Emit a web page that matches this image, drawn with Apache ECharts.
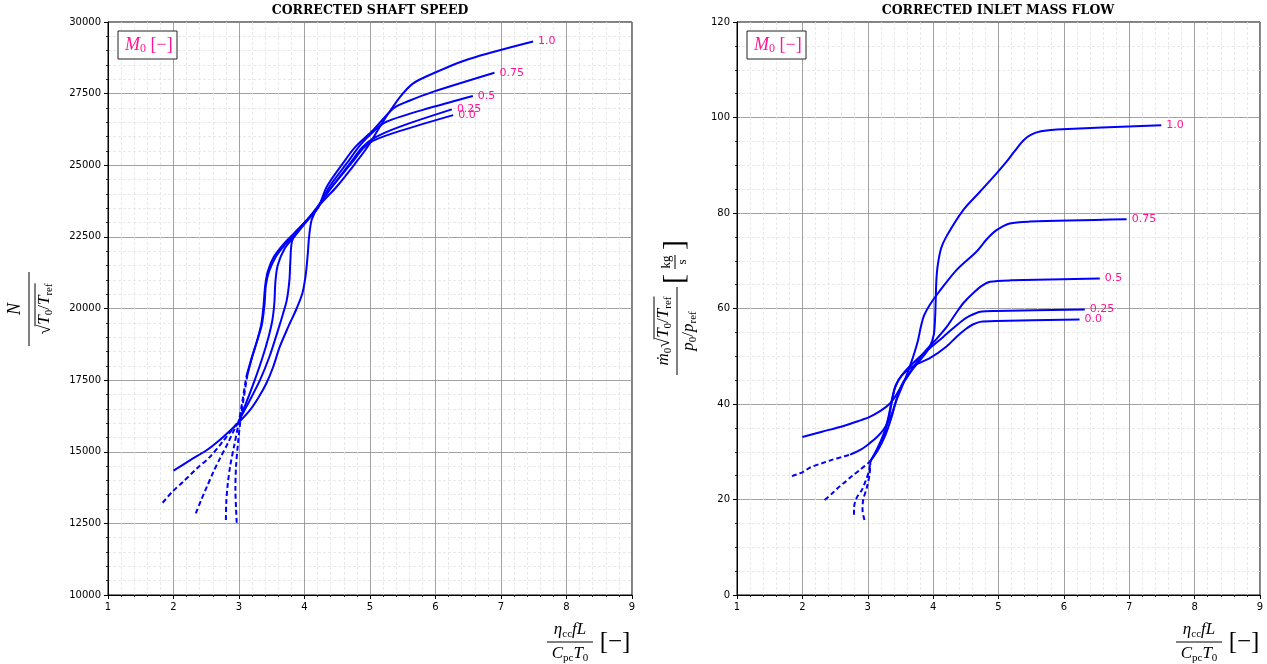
<!DOCTYPE html>
<html><head><meta charset="utf-8">
<script src="https://cdn.jsdelivr.net/npm/echarts@6/dist/echarts.min.js"></script>
<style>html,body{margin:0;padding:0;background:#fff}#c{width:1267px;height:664px}</style>
</head><body><div id="c"></div>
<script>
// ---------- data ----------
const machLabels = ['0.0', '0.25', '0.5', '0.75', '1.0'];
const xTicks = [1, 2, 3, 4, 5, 6, 7, 8, 9];
const speedTicks = [10000, 12500, 15000, 17500, 20000, 22500, 25000, 27500, 30000];
const flowTicks = [0, 20, 40, 60, 80, 100, 120];

// Corrected shaft speed (left)
const speedDash00 = [[2.965,12520],[2.955,13000],[2.945,13700],[2.955,14500],[2.985,15300],[3.02,16050],[3.07,16850],[3.13,17700]];
const speedSolid00 = [[3.13,17700],[3.2,18300],[3.28,18900],[3.34,19450],[3.375,20100],[3.40,20800],[3.44,21300],[3.53,21800],[3.68,22250],[3.85,22650],[4.02,23050],[4.2,23550],[4.42,24250],[4.72,25080],[4.9,25600],[5.05,25860],[5.46,26200],[6.27,26750]];
const speedDash025 = [[2.80,12620],[2.805,13200],[2.825,13800],[2.865,14500],[2.93,15250],[2.99,15950],[3.05,16750],[3.11,17600]];
const speedSolid025 = [[3.11,17600],[3.19,18250],[3.28,18900],[3.35,19450],[3.39,20150],[3.41,20800],[3.46,21300],[3.56,21800],[3.71,22250],[3.87,22620],[4.03,23050],[4.2,23550],[4.42,24250],[4.70,25080],[4.88,25620],[5.05,25940],[5.46,26350],[6.25,26950]];
const speedDash05 = [[2.34,12850],[2.42,13300],[2.51,13780],[2.61,14300],[2.71,14770],[2.83,15300],[2.94,15830],[2.99,16020]];
const speedSolid05 = [[2.99,16020],[3.1,16650],[3.24,17500],[3.36,18300],[3.45,19000],[3.51,19600],[3.54,20200],[3.555,20900],[3.59,21500],[3.7,22100],[3.85,22520],[4.0,22950],[4.2,23500],[4.38,24250],[4.65,25080],[4.85,25700],[5.05,26170],[5.25,26520],[5.97,27040],[6.57,27420]];
const speedDash075 = [[1.835,13220],[1.98,13600],[2.15,13960],[2.35,14400],[2.56,14830],[2.75,15350],[2.92,15850],[2.99,16050]];
const speedSolid075 = [[2.99,16050],[3.12,16600],[3.32,17500],[3.47,18350],[3.59,19200],[3.67,19800],[3.73,20300],[3.77,21000],[3.785,21700],[3.81,22350],[3.92,22800],[4.2,23500],[4.34,24250],[4.59,25080],[4.78,25650],[5.05,26230],[5.36,26990],[5.6,27250],[5.97,27570],[6.9,28230]];
const speedSolid10 = [[2.0,14340],[2.25,14700],[2.51,15060],[2.75,15500],[2.99,16010],[3.17,16460],[3.3,16900],[3.42,17400],[3.52,17950],[3.62,18650],[3.75,19350],[3.88,20000],[3.97,20550],[4.02,21200],[4.05,21900],[4.07,22500],[4.11,23100],[4.21,23550],[4.49,24250],[4.78,25080],[4.95,25600],[5.1,26150],[5.25,26700],[5.46,27390],[5.66,27860],[5.97,28210],[6.5,28700],[7.49,29320]];

// Corrected inlet mass flow (right)
const flowDash00 = [[2.95,15.7],[2.92,17.8],[2.93,19.9],[2.99,22.7],[3.03,25.5],[3.04,28.0]];
const flowSolid00 = [[3.04,28.0],[3.15,30.5],[3.25,33.5],[3.32,37],[3.37,40.5],[3.42,43.5],[3.52,46],[3.7,48],[3.95,49.6],[4.2,52],[4.36,54.1],[4.5,55.7],[4.6,56.6],[4.72,57.2],[4.97,57.4],[6.24,57.7]];
const flowDash025 = [[2.79,16.8],[2.79,18.0],[2.80,19.2],[2.84,20.6],[2.91,22.0],[2.97,24.0],[3.02,26.0],[3.04,28.0]];
const flowSolid025 = [[3.04,28.0],[3.15,30.8],[3.25,34],[3.32,37.5],[3.37,41],[3.43,44],[3.55,46.5],[3.75,49.3],[3.95,51.7],[4.15,54],[4.31,55.9],[4.45,57.5],[4.54,58.3],[4.72,59.3],[4.97,59.5],[6.32,59.8]];
const flowDash05 = [[2.34,19.9],[2.45,21.2],[2.55,22.5],[2.63,23.4],[2.75,24.8],[2.88,26.2],[3.03,27.9]];
const flowSolid05 = [[3.03,27.9],[3.15,30.2],[3.27,33.5],[3.37,37.5],[3.44,41],[3.52,44],[3.65,46.8],[3.85,50.6],[4.05,53.6],[4.21,56.2],[4.35,59],[4.46,61.1],[4.61,63.2],[4.75,64.8],[4.87,65.6],[5.2,65.9],[6.55,66.3]];
const flowDash075 = [[1.84,24.9],[2.0,25.7],[2.12,26.7],[2.3,27.6],[2.45,28.3],[2.63,29.0],[2.73,29.4]];
const flowSolid075 = [[2.73,29.4],[2.9,30.5],[3.03,31.8],[3.15,33.2],[3.24,34.6],[3.32,36.5],[3.37,38.0],[3.43,40.5],[3.49,42.5],[3.58,45.5],[3.66,48.5],[3.72,51],[3.77,53.4],[3.81,56],[3.86,58.5],[3.95,60.8],[4.08,63.3],[4.36,68.1],[4.67,72.0],[4.82,74.5],[4.97,76.4],[5.17,77.8],[5.48,78.2],[6.96,78.7]];
const flowSolid10 = [[2.0,33.1],[2.3,34.2],[2.63,35.4],[2.85,36.4],[3.03,37.3],[3.2,38.6],[3.34,40.1],[3.44,42],[3.55,44.5],[3.7,47.5],[3.85,50],[3.95,52],[4.01,54.5],[4.03,58],[4.04,62],[4.05,66],[4.07,69],[4.12,72.5],[4.2,75],[4.46,80.6],[4.72,84.5],[4.97,88.3],[5.12,90.7],[5.25,93],[5.38,95.2],[5.5,96.4],[5.65,97.1],[5.89,97.5],[7.49,98.4]];

// ---------- helpers ----------
const PINK = '#ff1493', BLUE = '#0000ff';
const SERIF = '"Liberation Serif"';
const mctx = document.createElement('canvas').getContext('2d');
function tw(t, f) { mctx.font = f; return mctx.measureText(t).width; }
function it(s) { return 'italic ' + s + 'px ' + SERIF; }
function up(s) { return s + 'px ' + SERIF; }
function row(pieces, y, color, opts) {
  opts = opts || {};
  let x = 0; const items = [];
  pieces.forEach(p => { const w = tw(p[0], p[1]); items.push({t: p[0], f: p[1], x: x, dy: p[2] || 0, w: w}); x += w; });
  const total = x; const off = opts.left != null ? opts.left : -total / 2;
  const els = items.map(o => ({
    type: 'text', x: o.x + off, y: y + o.dy, z: 100,
    style: {text: o.t, font: o.f, fill: color || '#000', align: 'left', verticalAlign: 'middle', textAlign: 'left', textVerticalAlign: 'middle'}
  }));
  if (opts.sqrtIdx != null) {
    const s = items[opts.sqrtIdx];
    const x1 = s.x + off + s.w * 0.85;
    els.push({type: 'line', z: 100, shape: {x1: x1, y1: y + opts.barDy, x2: total + off, y2: y + opts.barDy}, style: {stroke: color || '#000', lineWidth: 1}});
  }
  return {els: els, width: total};
}
function hline(x1, x2, y) { return {type: 'line', z: 100, shape: {x1: x1, y1: y, x2: x2, y2: y}, style: {stroke: '#000', lineWidth: 1}}; }
function ctext(x, y, t, f) { return {type: 'text', x: x, y: y, z: 100, style: {text: t, font: f, fill: '#000', align: 'center', verticalAlign: 'middle', textAlign: 'center', textVerticalAlign: 'middle'}}; }

function xLabelGroup(cx) {
  const num = row([['η', it(17)], ['cc', up(11), 4], ['f', it(17)], ['L', it(17)]], -12);
  const den = row([['C', it(17)], ['pc', up(11), 4], ['T', it(17)], ['0', up(11), 4]], 12);
  return {type: 'group', x: cx, y: 642, z: 100, children: [].concat(num.els, den.els, [hline(-23, 23, 0), ctext(45, 0, '[−]', up(25))])};
}
function legendGroup(x) {
  const r = row([['M', it(18)], ['0', up(12), 4], [' [−]', up(18)]], 14, PINK, {left: 7});
  return {type: 'group', x: x, y: 31, z: 100, children: [{type: 'rect', z: 99, shape: {x: 0, y: 0, width: 59, height: 28}, style: {fill: '#fff', stroke: '#222', lineWidth: 1}}].concat(r.els)};
}
function title(cx, t) { return {type: 'text', x: cx, y: 11, z: 100, style: {text: t, font: 'bold 12.5px "DejaVu Serif"', fill: '#000', align: 'center', verticalAlign: 'middle', textAlign: 'center', textVerticalAlign: 'middle'}}; }
// left y label: N / sqrt(T0/Tref)
const yl1num = row([['N', it(18)]], -14);
const yl1den = row([['√', up(18)], ['T', it(17)], ['0', up(11), 4], ['/', up(17)], ['T', it(17)], ['ref', up(11), 4]], 16, '#000', {sqrtIdx: 0, barDy: -10});
const yLabel1 = {type: 'group', x: 29, y: 309, rotation: Math.PI / 2, z: 100, children: [].concat(yl1num.els, yl1den.els, [hline(-37, 37, 0)])};
// right y label
const yl2num = row([['ṁ', it(17)], ['0', up(11), 4], ['√', up(18)], ['T', it(17)], ['0', up(11), 4], ['/', up(17)], ['T', it(17)], ['ref', up(11), 4]], -13, '#000', {sqrtIdx: 2, barDy: -10});
const yl2den = row([['p', it(17)], ['0', up(11), 4], ['/', up(17)], ['p', it(17)], ['ref', up(11), 4]], 12);
const kg = [ctext(52, -2, '[', up(30)), ctext(86, -2, ']', up(30)), ctext(69, -10, 'kg', up(13)), ctext(69, 6, 's', up(13)), hline(62, 76, -2)];
const yLabel2 = {type: 'group', x: 677, y: 331, rotation: Math.PI / 2, z: 100, children: [].concat(yl2num.els, yl2den.els, [hline(-44, 44, 0)], kg)};

// ---------- chart ----------
const chart = echarts.init(document.getElementById('c'), null, {renderer: 'canvas'});
function axisCommon(extra, split) {
  return Object.assign({
    type: 'value',
    axisLine: {show: true, onZero: false, lineStyle: {color: '#000', width: 1}},
    axisTick: {show: true, inside: false, length: 4, lineStyle: {color: '#000', width: 1}},
    minorTick: {show: true, splitNumber: split, length: 2, lineStyle: {color: '#000', width: 0.8}},
    axisLabel: {color: '#000', fontSize: 10, fontFamily: '"DejaVu Sans"', margin: 7, formatter: v => String(v)},
    splitLine: {show: true, lineStyle: {color: '#8a8a8a', width: 0.8}},
    minorSplitLine: {show: true, lineStyle: {color: '#e3e3e3', width: 0.8, type: [3, 2]}}
  }, extra);
}
const xAxes = [0, 1].map(g => axisCommon({gridIndex: g, min: xTicks[0], max: xTicks[xTicks.length - 1], interval: 1}, 5));
const yAxes = [
  axisCommon({gridIndex: 0, min: speedTicks[0], max: speedTicks[speedTicks.length - 1], interval: 2500}, 5),
  axisCommon({gridIndex: 1, min: flowTicks[0], max: flowTicks[flowTicks.length - 1], interval: 20}, 4)
];
function ser(g, data, dashed, label) {
  const s = {
    type: 'line', xAxisIndex: g, yAxisIndex: g, data: data, showSymbol: false, symbol: 'none',
    smooth: 0.3, z: 5,
    lineStyle: {color: BLUE, width: 2, type: dashed ? [5, 3] : 'solid'},
    itemStyle: {color: BLUE}
  };
  if (label) s.endLabel = {show: true, formatter: label, color: PINK, fontSize: 11, fontFamily: '"DejaVu Sans"', distance: 5};
  return s;
}
const series = [
  ser(0, speedDash00, true), ser(0, speedSolid00, false, machLabels[0]),
  ser(0, speedDash025, true), ser(0, speedSolid025, false, machLabels[1]),
  ser(0, speedDash05, true), ser(0, speedSolid05, false, machLabels[2]),
  ser(0, speedDash075, true), ser(0, speedSolid075, false, machLabels[3]),
  ser(0, speedSolid10, false, machLabels[4]),
  ser(1, flowDash00, true), ser(1, flowSolid00, false, machLabels[0]),
  ser(1, flowDash025, true), ser(1, flowSolid025, false, machLabels[1]),
  ser(1, flowDash05, true), ser(1, flowSolid05, false, machLabels[2]),
  ser(1, flowDash075, true), ser(1, flowSolid075, false, machLabels[3]),
  ser(1, flowSolid10, false, machLabels[4])
];
chart.setOption({
  animation: false,
  backgroundColor: '#fff',
  grid: [
    {left: 108, top: 22, width: 524, height: 573, show: true, borderColor: '#000', borderWidth: 1, backgroundColor: 'transparent'},
    {left: 737, top: 22, width: 523, height: 573, show: true, borderColor: '#000', borderWidth: 1, backgroundColor: 'transparent'}
  ],
  xAxis: xAxes,
  yAxis: yAxes,
  series: series,
  graphic: {elements: [
    title(370, 'CORRECTED SHAFT SPEED'), title(998, 'CORRECTED INLET MASS FLOW'),
    legendGroup(118), legendGroup(747),
    xLabelGroup(570), xLabelGroup(1199),
    yLabel1, yLabel2
  ]}
});
</script>
</body></html>
